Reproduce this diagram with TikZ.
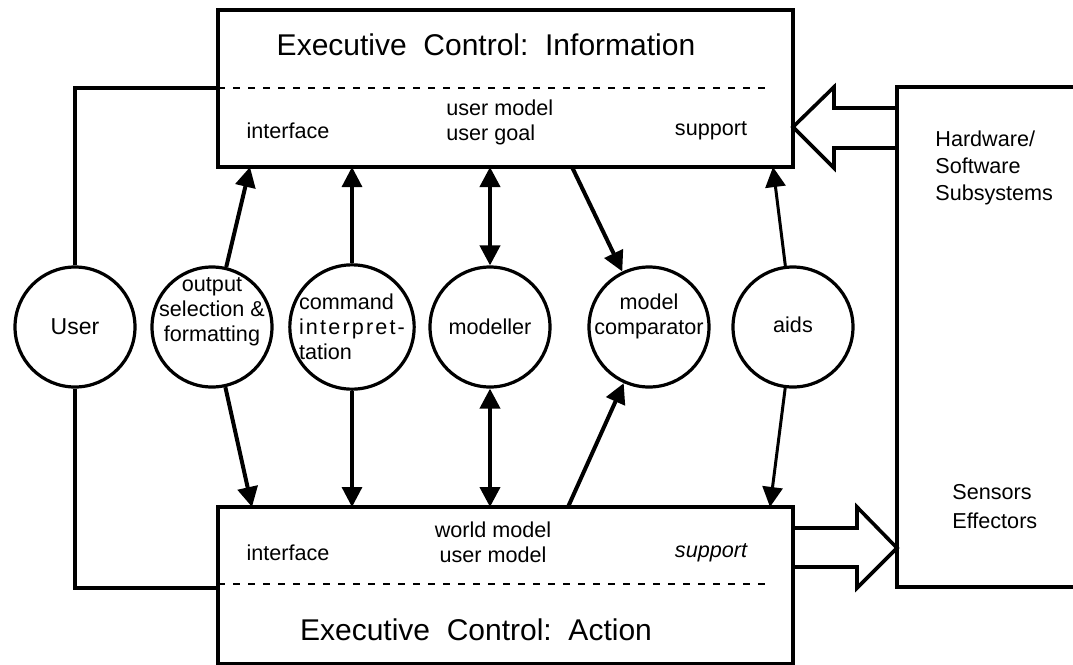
\documentclass[tikz,border=0pt]{standalone}
\usepackage{fontspec}
\setmainfont{Liberation Sans}
\usetikzlibrary{arrows.meta}
\newcommand\lblfont{\fontsize{10.8}{12.5}\selectfont}
\tikzset{
  box/.style={draw, line width=1.8pt, minimum width=287.5pt, minimum height=78.5pt, inner sep=0pt},
  proc/.style={draw, circle, line width=1.6pt, minimum size=60pt, inner sep=0pt, font=\lblfont, align=center},
  lbl/.style={font=\lblfont, inner sep=0pt},
  ttl/.style={font=\fontsize{15}{18}\selectfont, inner sep=0pt},
  sep/.style={line width=1.1pt, dash pattern=on 3.5pt off 4pt},
  link/.style={line width=1.7pt},
  flow/.style={line width=2pt, -{Triangle[length=10pt,width=10pt]}},
  both/.style={line width=2pt, {Triangle[length=10pt,width=10pt]}-{Triangle[length=10pt,width=10pt]}},
  hollow/.style={line width=1.8pt, line join=miter},
}

\begin{document}
\begin{tikzpicture}[x=0.5pt, y=-0.5pt]
	%%%%% START %%%%%
	\useasboundingbox (0,0) rectangle (1073,665);
	
	% executive control: information
	\node[box] (info) at (505.5,88.5) {};
	\draw[sep] (218,88) -- (767,88);
	\node[ttl] (infoT) at (486,45) {Executive\ \ Control:\ \ Information};
	\node[lbl] (infoIf) at (288,131) {interface};
	\node[lbl, align=left, anchor=west] (infoUm) at (446,122) {user model\\user goal};
	\node[lbl] (infoSup) at (711,131) {support};
	
	% executive control: action
	\node[box] (act) at (505.5,585.5) {};
	\draw[sep] (218,584) -- (767,584);
	\node[ttl] (actT) at (476,630) {Executive\ \ Control:\ \ Action};
	\node[lbl] (actIf) at (288,553) {interface};
	\node[lbl, align=center] (actWm) at (493,542) {world model\\user model};
	\node[lbl, font=\lblfont\itshape] (actSup) at (711,553) {support};
	
	% subsystems
	\draw[hollow] (1073,87) -- (897,87) -- (897,587) -- (1073,587);
	\node[lbl, align=left, anchor=west] (hw) at (935,168) {Hardware/\\[1pt]Software\\[1pt]Subsystems};
	\node[lbl, align=left, anchor=west] (se) at (952,507) {Sensors\\[2pt]Effectors};
	\draw[hollow] (897,108) -- (834,108) -- (834,87) -- (793,127) -- (834,168) -- (834,148) -- (897,148);
	\draw[hollow] (793,528) -- (857,528) -- (857,507) -- (897,548) -- (857,588) -- (857,567) -- (793,567);
	
	% processes
	\node[proc] (user) at (75,327) {\fontsize{11.5}{13}\selectfont User};
	\node[proc, label={[lbl, align=center, yshift=7.5pt]center:output\\selection \&\\formatting}] (out) at (212,327) {};
	\node[proc, align=left] (cmd) at (352,327) {command\\{\addfontfeature{LetterSpace=10}interpret-}\\tation};
	\node[proc] (mod) at (490,327) {modeller};
	\node[proc, label={[lbl, align=center, yshift=5.5pt]center:model\\comparator}] (cmp) at (649,327) {};
	\node[proc] (aids) at (793,327) {\raisebox{2pt}{aids}};
	
	\coordinate (iUser) at (218,88);
	\coordinate (aUser) at (218,588);
	\coordinate (iOut) at (250,167);
	\coordinate (aOut) at (252,507);
	\coordinate (iCmd) at (352,167);
	\coordinate (aCmd) at (352,507);
	\coordinate (iMod) at (490,167);
	\coordinate (aMod) at (490,507);
	\coordinate (iCmp) at (572,167);
	\coordinate (aCmp) at (568,507);
	\coordinate (iAids) at (773,167);
	\coordinate (aAids) at (770,507);
	
	\draw[link] (user.north) |- (iUser);
	\draw[link] (user.south) |- (aUser);
	\draw[flow] (out) -- (iOut);
	\draw[flow] (out) -- (aOut);
	\draw[flow, line width=1.6pt] (cmd) -- (iCmd);
	\draw[flow, line width=1.6pt] (cmd) -- (aCmd);
	\draw[both] (mod) -- (iMod);
	\draw[both] (mod) -- (aMod);
	\draw[flow] (iCmp) -- (cmp);
	\draw[flow] (aCmp) -- (cmp);
	\draw[flow, line width=1.5pt] (aids) -- (iAids);
	\draw[flow, line width=1.5pt] (aids) -- (aAids);
	
	%%%%% END %%%%%
\end{tikzpicture}
\end{document}
